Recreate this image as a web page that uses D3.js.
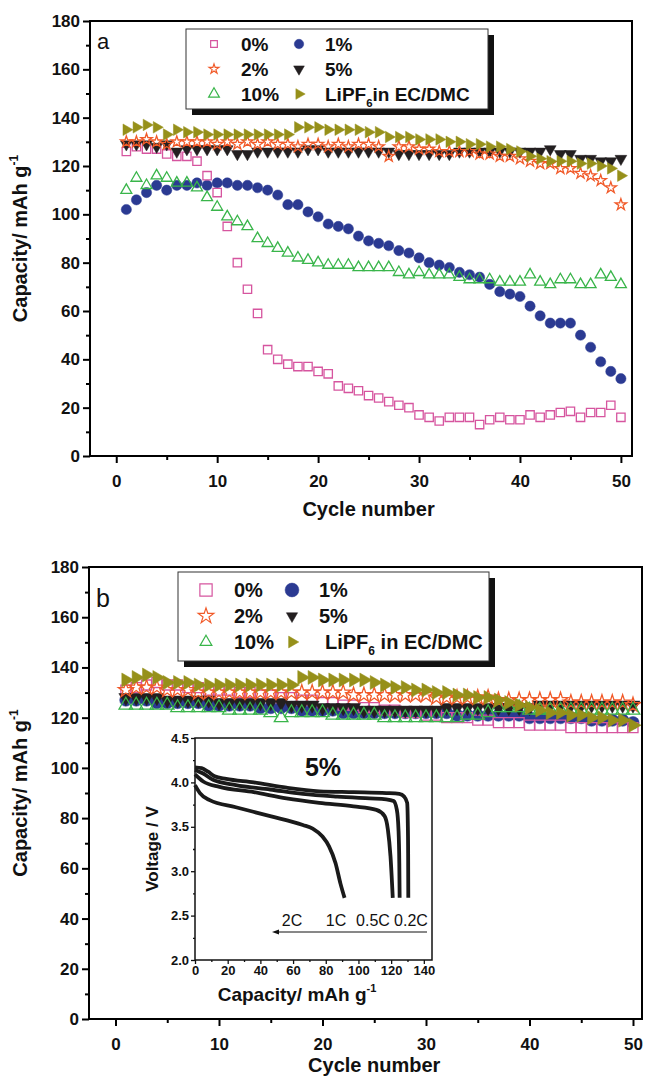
<!DOCTYPE html>
<html>
<head>
<meta charset="utf-8">
<script src="https://cdn.jsdelivr.net/npm/d3@7"></script>
<style>
  body { margin: 0; background: #fff; }
  text { font-family: "Liberation Sans", Arial, sans-serif; }
</style>
</head>
<body>
<div id="chart"></div>
<script>
// cycle numbers shared by both panels
const cycles = d3.range(1, 51);

// panel a: capacity (mAh/g) per cycle
const a0 = [126,128,127,127,125,124,124,122,116,109,95,80,69,59,44,40,38,37,37,35,34,29,28,27,25,24,22.5,21,20,17,16,14.5,16,16,16,13,15,16,15,15,17,16,17,18,18.5,16,18,18,21,16];
const a1 = [102,106,109,112,110,112,112,113,112,113,113,112,112,111,110,108,104,104,101,99,96,95,94,91,89,88,87,85,84,82,80,79,78,76,75,74,71,68,67,66,62,58,55,55,55,50,45,39,35,32];
const a2 = [130,130,131,130,129,130,130,130,130,129,130,129,130,129,130,129,129,128,129,129,128,129,128,129,129,128,124,128,128,127,127,126,126,126,126,125,125,124,124,123,122,121,121,119,119,117,116,114,111,104];
const a5 = [129,129,129,128,129,126,127,127,127,127,127,125,125,126,126,126,126,126,127,127,126,126,126,126,126,126,126,125,125,125,125,125,125,126,126,126,126,126,126,126,126,126,127,125,125,123,123,122,122,123];
const a10 = [110,115,112,116,115,113,113,111,107,103,99,97,95,90,88,86,84,82,81,80,79,79,79,78,78,78,78,76,75,76,75,75,75,74,73,73,73,72,72,72,75,72,71,73,73,71,71,75,74,71];
const aLi = [135,136,137,136,133,135,134,134,133,133,133,133,133,133,133,133,133,136,136,136,135,135,135,135,134,134,132,132,132,131,131,131,130,130,129,129,128,128,127,126,124,123,122,122,122,121,121,120,119,116];

// panel b: capacity (mAh/g) per cycle
const b0 = [131,132,133,134,133,133,132,132,131,131,131,130,130,129,129,128,128,127,127,126,126,125,125,124,124,123,123,122,122,121,121,120,120,120,119,119,118,118,118,117,117,117,117,116,116,116,116,116,116,116];
const b1 = [127,127,127,126,126,126,126,126,125,125,125,125,125,124,124,124,124,123,123,123,123,122,122,122,122,122,122,122,122,122,122,122,121,121,121,121,121,121,121,120,120,120,120,120,120,119,119,119,119,118];
const b2 = [131,132,132,132,131,131,131,130,130,130,130,130,130,130,130,130,130,130,130,130,130,130,129,129,129,129,129,129,129,129,128,128,128,128,128,128,127,127,127,127,127,127,127,126,126,126,126,126,126,125];
const b5 = [128,128,128,128,127,127,127,127,127,126,126,126,126,126,126,126,125,125,125,124,124,124,124,123,123,123,123,123,123,123,123,124,124,124,124,124,124,124,124,124,125,125,125,125,125,125,125,125,125,125];
const b10 = [125,125,125,125,125,124,124,124,124,124,123,123,123,123,122,120,122,122,122,122,121,121,121,121,121,120,120,120,120,120,120,120,120,121,121,122,124,124,124,123,123,123,123,123,123,123,123,123,123,123];
const bLi = [135,136,137,136,134,134,134,133,133,133,133,133,133,133,133,133,133,136,136,135,135,135,135,135,134,133,132,132,131,131,130,130,129,129,128,128,127,126,125,124,123,122,122,121,121,120,120,119,119,117];

// inset: discharge curves of the 5% cell (capacity, voltage)
const rates = ["2C", "1C", "0.5C", "0.2C"];
const cap2C = [0,3,9,25,46,66,72,78,82,86,89,91.5];
const v2C = [3.97,3.88,3.80,3.72,3.62,3.52,3.48,3.39,3.28,3.09,2.86,2.70];
const cap1C = [0,5,15,36,56,76,97,111,116,118,119.6,121];
const v1C = [4.09,4.01,3.95,3.89,3.82,3.77,3.73,3.69,3.62,3.47,3.17,2.70];
const cap05C = [0,5,11,25,46,66,87,107,117,121.5,123.5,124.5,125,125.2];
const v05C = [4.14,4.10,4.03,3.97,3.92,3.87,3.84,3.82,3.81,3.79,3.69,3.47,3.09,2.70];
const cap02C = [0,4,8,12,19,36,56,76,97,117,125,128,129.8,130.2,130.4,130.5];
const v02C = [4.17,4.16,4.12,4.07,4.04,4.00,3.94,3.90,3.89,3.88,3.87,3.84,3.77,3.54,3.20,2.70];

const yTicks = [0,20,40,60,80,100,120,140,160,180];
const xTicks = [0,10,20,30,40,50];

const W = 645, H = 1078;
const svg = d3.select("#chart").append("svg")
  .attr("width", W).attr("height", H);

// marker styles
const styles = {
  p0:  { type: d3.symbolSquare,   color: "#d6559f", open: true,  rot: 0 },
  p1:  { type: d3.symbolCircle,   color: "#2b3a92", open: false, rot: 0 },
  p2:  { type: d3.symbolStar,     color: "#f15a29", open: true,  rot: 0 },
  p5:  { type: d3.symbolTriangle, color: "#231f20", open: false, rot: 180 },
  p10: { type: d3.symbolTriangle, color: "#39b54a", open: true,  rot: 0 },
  li:  { type: d3.symbolTriangle, color: "#96901a", open: false, rot: 90 }
};

function marker(g, st, size, x, y, sw) {
  g.append("path")
    .attr("d", d3.symbol().type(st.type).size(size)())
    .attr("transform", `translate(${x},${y}) rotate(${st.rot})`)
    .attr("fill", st.open ? "none" : st.color)
    .attr("stroke", st.color)
    .attr("stroke-width", st.open ? sw : 0.5);
}

function drawPanel(cfg) {
  const x = d3.scaleLinear().domain(cfg.xDom).range([cfg.left, cfg.right]);
  const y = d3.scaleLinear().domain([0, 180]).range([cfg.bottom, cfg.top]);
  const g = svg.append("g");

  // series
  cfg.series.forEach(s => {
    const gs = g.append("g");
    s.vals.forEach((v, i) => marker(gs, styles[s.key], s.size, x(cycles[i]), y(v), 1.3));
  });

  // frame
  g.append("rect")
    .attr("x", cfg.left).attr("y", cfg.top)
    .attr("width", cfg.right - cfg.left).attr("height", cfg.bottom - cfg.top)
    .attr("fill", "none").attr("stroke", "#000").attr("stroke-width", 2);

  // y axis
  g.append("g").attr("transform", `translate(${cfg.left},0)`)
    .call(d3.axisLeft(y).tickValues(yTicks).tickSize(7).tickPadding(3));
  g.append("g").attr("transform", `translate(${cfg.left},0)`)
    .call(d3.axisLeft(y).tickValues(d3.range(10, 180, 20)).tickSize(4).tickFormat(""));
  // x axis
  g.append("g").attr("transform", `translate(0,${cfg.bottom})`)
    .call(d3.axisBottom(x).tickValues(xTicks).tickSize(7).tickPadding(12));
  g.append("g").attr("transform", `translate(0,${cfg.bottom})`)
    .call(d3.axisBottom(x).tickValues([5,15,25,35,45]).tickSize(4).tickFormat(""));
  g.selectAll(".domain").remove();
  g.selectAll(".tick line").attr("stroke", "#000").attr("stroke-width", 2);
  g.selectAll(".tick text").attr("font-size", 17).attr("font-weight", "bold")
    .attr("fill", "#111").style("font-family", "'Liberation Sans', Arial, sans-serif");

  // axis titles
  const yt = g.append("text")
    .attr("transform", `translate(27,${(cfg.top + cfg.bottom) / 2}) rotate(-90)`)
    .attr("text-anchor", "middle").attr("font-size", 20).attr("font-weight", "bold")
    .attr("fill", "#111");
  yt.append("tspan").text("Capacity/ mAh g");
  yt.append("tspan").attr("font-size", 12).attr("dy", -9).text("-1");

  g.append("text")
    .attr("x", (x(0) + x(50)) / 2).attr("y", cfg.titleY)
    .attr("text-anchor", "middle").attr("font-size", 20).attr("font-weight", "bold")
    .attr("fill", "#111").text("Cycle number");

  // panel letter
  g.append("text").attr("x", cfg.left + 7).attr("y", cfg.top + cfg.letterDy)
    .attr("font-size", cfg.letterSize).attr("fill", "#111").text(cfg.letter);

  // legend
  const L = cfg.legend;
  g.append("rect").attr("x", L.x + 6).attr("y", L.y + 6)
    .attr("width", L.w).attr("height", L.h).attr("fill", "#111");
  g.append("rect").attr("x", L.x).attr("y", L.y)
    .attr("width", L.w).attr("height", L.h)
    .attr("fill", "#fff").attr("stroke", "#333").attr("stroke-width", 1);
  const items = [
    ["p0", "0%", 0, 0], ["p1", "1%", 1, 0],
    ["p2", "2%", 0, 1], ["p5", "5%", 1, 1],
    ["p10", "10%", 0, 2], ["li", null, 1, 2]
  ];
  items.forEach(([key, label, col, row]) => {
    const mx = L.x + (col ? L.m2 : L.m1);
    const my = L.y + L.r0 + row * L.dr;
    marker(g, styles[key], L.sizes[key], mx, my, 1.2);
    const t = g.append("text")
      .attr("x", L.x + (col ? L.t2 : L.t1) + (key === "li" ? L.liShift : 0))
      .attr("y", my + L.fs * 0.36)
      .attr("font-size", L.fs).attr("font-weight", "bold").attr("fill", "#111");
    if (label) t.text(label);
    else {
      t.append("tspan").text("LiPF");
      t.append("tspan").attr("font-size", L.fs * 0.6).attr("dy", 6).text("6");
      t.append("tspan").attr("dy", -6).text(L.liText);
    }
  });
  return { x, y, g };
}

// ---------- panel a ----------
drawPanel({
  left: 90, right: 632, top: 21, bottom: 456, xDom: [-2.6, 51.1],
  titleY: 516, letter: "a", letterDy: 28, letterSize: 22,
  series: [
    { key: "p1", vals: a1, size: 82 },
    { key: "p0", vals: a0, size: 70 },
    { key: "p5", vals: a5, size: 60 },
    { key: "p2", vals: a2, size: 40 },
    { key: "p10", vals: a10, size: 52 },
    { key: "li", vals: aLi, size: 58 }
  ],
  legend: {
    x: 186, y: 29, w: 302, h: 80, r0: 15, dr: 25,
    m1: 28, t1: 55, m2: 113, t2: 139, liShift: 0, fs: 19, liText: "in EC/DMC",
    sizes: { p0: 45, p1: 70, p2: 30, p5: 50, p10: 50, li: 50 }
  }
});

// ---------- panel b ----------
drawPanel({
  left: 89, right: 642, top: 567, bottom: 1019, xDom: [-2.56, 50.87],
  titleY: 1072, letter: "b", letterDy: 40, letterSize: 25,
  series: [
    { key: "p1", vals: b1, size: 120 },
    { key: "p0", vals: b0, size: 100 },
    { key: "p5", vals: b5, size: 85 },
    { key: "p2", vals: b2, size: 70 },
    { key: "p10", vals: b10, size: 80 },
    { key: "li", vals: bLi, size: 85 }
  ],
  legend: {
    x: 178, y: 572, w: 311, h: 89, r0: 18, dr: 26,
    m1: 28, t1: 56, m2: 114, t2: 141, liShift: 6, fs: 20, liText: " in EC/DMC",
    sizes: { p0: 150, p1: 150, p2: 75, p5: 55, p10: 60, li: 60 }
  }
});

// ---------- inset ----------
const ix = d3.scaleLinear().domain([0, 145]).range([195, 432]);
const iy = d3.scaleLinear().domain([2, 4.5]).range([960, 738]);
const ig = svg.append("g");
ig.append("rect").attr("x", 195).attr("y", 738).attr("width", 237).attr("height", 222)
  .attr("fill", "#fff").attr("stroke", "#111").attr("stroke-width", 1.5);

const curves = [[cap2C, v2C], [cap1C, v1C], [cap05C, v05C], [cap02C, v02C]];
const line = d3.line().x(d => ix(d[0])).y(d => iy(d[1])).curve(d3.curveMonotoneX);
curves.forEach(([c, v]) => {
  ig.append("path").datum(c.map((d, i) => [d, v[i]]))
    .attr("d", line).attr("fill", "none").attr("stroke", "#1a1a1a").attr("stroke-width", 3.8);
});

ig.append("g").attr("transform", "translate(195,0)")
  .call(d3.axisLeft(iy).tickValues([2, 2.5, 3, 3.5, 4, 4.5]).tickSize(4).tickPadding(2).tickFormat(d3.format(".1f")));
ig.append("g").attr("transform", "translate(195,0)")
  .call(d3.axisLeft(iy).tickValues([2.25, 2.75, 3.25, 3.75, 4.25]).tickSize(2).tickFormat(""));
ig.append("g").attr("transform", "translate(0,960)")
  .call(d3.axisBottom(ix).tickValues(d3.range(0, 141, 20)).tickSize(4).tickPadding(2));
ig.append("g").attr("transform", "translate(0,960)")
  .call(d3.axisBottom(ix).tickValues(d3.range(10, 141, 20)).tickSize(2).tickFormat(""));
ig.selectAll(".domain").remove();
ig.selectAll(".tick line").attr("stroke", "#111").attr("stroke-width", 1.3);
ig.selectAll(".tick text").attr("font-size", 13).attr("font-weight", "bold").attr("fill", "#111")
  .style("font-family", "'Liberation Sans', Arial, sans-serif");

const ixt = ig.append("text").attr("x", 297).attr("y", 1001).attr("text-anchor", "middle")
  .attr("font-size", 19).attr("font-weight", "bold").attr("fill", "#111");
ixt.append("tspan").text("Capacity/ mAh g");
ixt.append("tspan").attr("font-size", 11).attr("dy", -9).text("-1");

ig.append("text").attr("transform", "translate(158,849) rotate(-90)")
  .attr("text-anchor", "middle").attr("font-size", 17).attr("font-weight", "bold")
  .attr("fill", "#111").text("Voltage / V");

ig.append("text").attr("x", 323).attr("y", 776).attr("text-anchor", "middle")
  .attr("font-size", 25).attr("font-weight", "bold").attr("fill", "#111").text("5%");

const rateX = [292, 336, 373, 411];
rates.forEach((r, i) => {
  ig.append("text").attr("x", rateX[i]).attr("y", 926).attr("text-anchor", "middle")
    .attr("font-size", 16).attr("fill", "#111").text(r);
});
ig.append("line").attr("x1", 427).attr("x2", 276).attr("y1", 932).attr("y2", 932)
  .attr("stroke", "#111").attr("stroke-width", 1);
ig.append("path").attr("d", "M272,932 L279,929.5 L279,934.5 Z").attr("fill", "#111");
</script>
</body>
</html>
